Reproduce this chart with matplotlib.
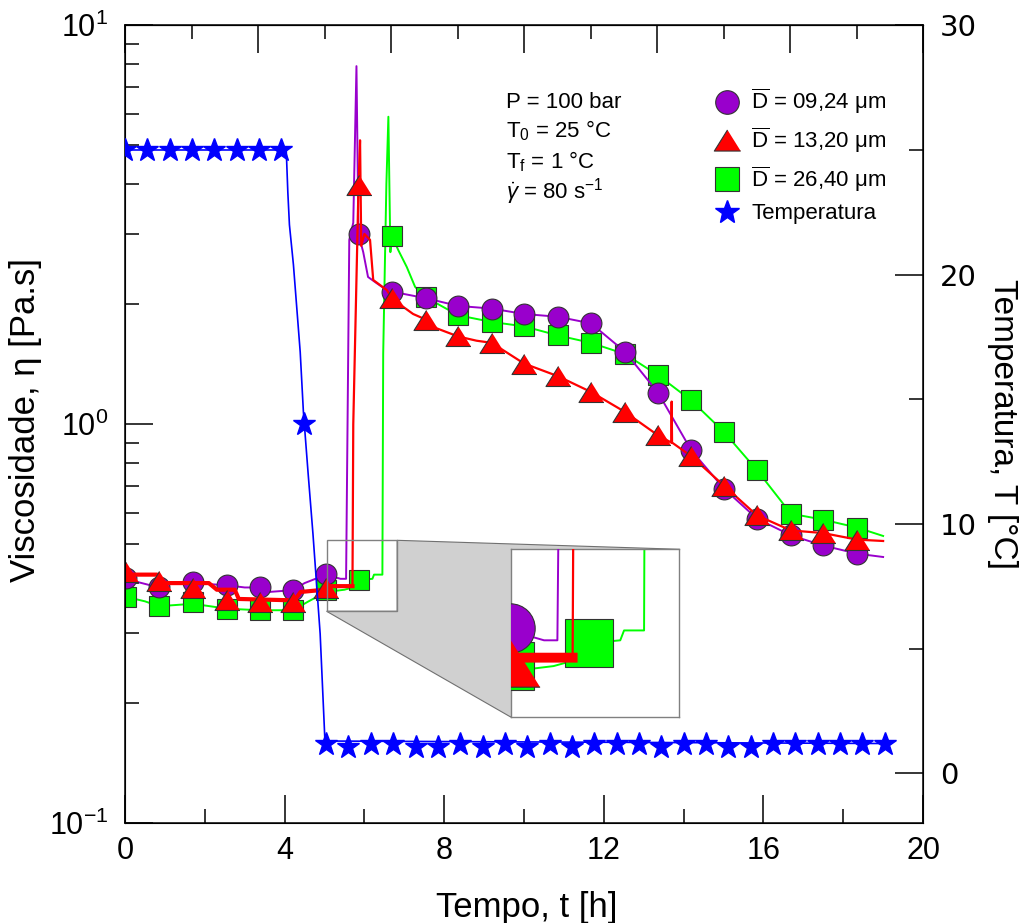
import numpy as np
import matplotlib
matplotlib.use('Agg')
import matplotlib.pyplot as plt
from matplotlib.ticker import MultipleLocator, LogLocator, NullFormatter
from matplotlib.lines import Line2D
from matplotlib.patches import Polygon, Rectangle

plt.rcParams['font.family'] = ['Liberation Sans', 'DejaVu Sans']
plt.rcParams['mathtext.fontset'] = 'custom'
plt.rcParams['mathtext.rm'] = 'Liberation Sans'
plt.rcParams['mathtext.it'] = 'Liberation Sans:italic'
plt.rcParams['mathtext.sf'] = 'Liberation Sans'

# marker times (h), shared by the three viscosity series
t_mk = [0.03, 0.85, 1.70, 2.56, 3.38, 4.21, 5.04, 5.87, 6.69, 7.54, 8.35, 9.19,
        10.0, 10.85, 11.68, 12.53, 13.36, 14.19, 15.01, 15.84, 16.69, 17.49, 18.35]
v_d09 = [0.411, 0.391, 0.402, 0.395, 0.391, 0.384, 0.422, 3.0, 2.15, 2.07, 1.98, 1.95,
         1.89, 1.86, 1.79, 1.52, 1.20, 0.861, 0.690, 0.580, 0.527, 0.497, 0.474]
v_d13 = [0.426, 0.406, 0.388, 0.362, 0.359, 0.359, 0.388, 3.97, 2.07, 1.83, 1.66, 1.60,
         1.42, 1.32, 1.205, 1.074, 0.938, 0.832, 0.702, 0.591, 0.542, 0.534, 0.514]
v_d26 = [0.369, 0.350, 0.359, 0.345, 0.342, 0.342, 0.385, 0.407, 2.96, 2.08, 1.876, 1.805,
         1.76, 1.67, 1.60, 1.50, 1.327, 1.148, 0.957, 0.767, 0.597, 0.577, 0.551]

# continuous (measured) curves
t_l09 = [0.0, 0.85, 1.2, 1.7, 2.56, 3.0, 3.38, 3.6, 4.21, 4.5, 5.04, 5.4, 5.54, 5.62, 5.72,
         5.8, 5.85, 5.97, 6.09, 6.3, 6.47, 6.69, 7.54, 8.35, 9.19, 10.0, 10.85, 11.68,
         12.53, 13.36, 14.19, 15.01, 15.84, 16.69, 17.49, 18.35, 19.0]
v_l09 = [0.41, 0.39, 0.40, 0.40, 0.395, 0.39, 0.39, 0.38, 0.384, 0.40, 0.42, 0.41, 0.41, 2.9, 3.2,
         7.9, 3.0, 2.7, 2.34, 2.26, 2.2, 2.15, 2.07, 1.98, 1.95, 1.89, 1.86, 1.79,
         1.52, 1.20, 0.861, 0.690, 0.580, 0.527, 0.497, 0.474, 0.465]

t_l13 = [0.0, 0.8, 1.0, 2.1, 2.3, 2.75, 2.85, 4.25, 4.4, 5.0, 5.04, 5.7, 5.72, 5.85, 5.89,
         5.92, 6.0, 6.14, 6.22, 6.56, 6.69, 6.97, 7.22, 7.54, 7.81, 8.35, 8.81, 9.19,
         10.0, 10.85, 11.68, 12.53, 13.36, 13.69, 13.7, 13.71, 14.19, 15.01, 15.84,
         16.69, 17.49, 18.35, 19.0]
v_l13 = [0.42, 0.42, 0.40, 0.40, 0.385, 0.385, 0.365, 0.362, 0.38, 0.385, 0.393, 0.393, 1.0,
         3.9, 5.15, 2.8, 3.0, 2.9, 2.3, 2.17, 2.07, 1.97, 1.89, 1.83, 1.74, 1.66, 1.62, 1.60,
         1.42, 1.32, 1.205, 1.074, 0.938, 0.90, 1.14, 0.90, 0.832, 0.702, 0.591,
         0.542, 0.534, 0.514, 0.51]
n13_flat = 12  # first points of the red curve: the noisy (thick) plateau up to 5.7 h

t_l26 = [0.0, 0.5, 0.85, 1.7, 2.56, 3.38, 4.21, 4.6, 5.04, 5.5, 5.7, 5.87, 6.2, 6.24, 6.45,
         6.47, 6.55, 6.6, 6.65, 6.69, 6.85, 7.06, 7.27, 7.54, 8.35, 9.19, 10.0, 10.85,
         11.68, 12.53, 13.36, 14.19, 15.01, 15.84, 16.69, 17.49, 18.35, 19.0]
v_l26 = [0.37, 0.36, 0.35, 0.355, 0.345, 0.342, 0.342, 0.36, 0.38, 0.385, 0.39, 0.407, 0.41,
         0.42, 0.42, 1.5, 4.0, 5.9, 2.7, 2.96, 2.73, 2.48, 2.21, 2.08, 1.876, 1.805, 1.76,
         1.67, 1.60, 1.50, 1.327, 1.148, 0.957, 0.767, 0.597, 0.577, 0.551, 0.525]

# temperature
t_temp_line = [0.0, 4.04, 4.08, 4.12, 4.22, 4.39, 4.47, 4.59, 4.71, 4.89, 5.01, 19.0]
T_temp_line = [25.0, 25.0, 23.3, 22.0, 20.4, 16.9, 14.5, 12.0, 9.6, 5.6, 1.3, 1.2]
t_temp_mk = [0.0, 0.56, 1.12, 1.68, 2.24, 2.80, 3.36, 3.92, 4.48, 5.04, 5.60, 6.16,
             6.72, 7.28, 7.84, 8.40, 8.96, 9.52, 10.08, 10.64, 11.20, 11.76, 12.32,
             12.88, 13.44, 14.00, 14.56, 15.12, 15.68, 16.24, 16.80, 17.36, 17.92,
             18.48, 19.04]
T_temp_mk = [25, 25, 25, 25, 25, 25, 25, 25, 14.0, 1.2, 1.05, 1.2, 1.2, 1.05, 1.05,
             1.2, 1.05, 1.2, 1.05, 1.2, 1.05, 1.2, 1.2, 1.2, 1.05, 1.2, 1.2, 1.05,
             1.05, 1.2, 1.2, 1.2, 1.2, 1.2, 1.2]

labels = [r'$\overline{\mathrm{D}}$ = 09,24 μm', r'$\overline{\mathrm{D}}$ = 13,20 μm',
          r'$\overline{\mathrm{D}}$ = 26,40 μm', 'Temperatura']

c_pur = '#9900CC'
c_red = '#FF0000'
c_grn = '#00FF00'
c_blu = '#0000FF'
ec = '#333333'
tri = [(0, 0.8), (-1, -0.8), (1, -0.8)]

fig = plt.figure(figsize=(10.25, 9.23), dpi=100)
ax = fig.add_axes([0.122, 0.108, 0.7785, 0.8646])


def draw_visc(a, k=1.0):
    a.plot(t_l26, v_l26, color=c_grn, lw=1.4, zorder=2)
    a.plot(t_mk, v_d26, ls='none', marker='s', ms=14.5 * k, mfc=c_grn, mec=ec, mew=0.8, zorder=3)
    a.plot(t_l09, v_l09, color=c_pur, lw=1.4, zorder=4)
    a.plot(t_mk, v_d09, ls='none', marker='o', ms=15 * k, mfc=c_pur, mec=ec, mew=0.8, zorder=5)
    a.plot(t_l13, v_l13, color=c_red, lw=1.6, zorder=6)
    a.plot(t_l13[:n13_flat], v_l13[:n13_flat], color=c_red, lw=3.0 * k, zorder=6)
    a.plot(t_mk, v_d13, ls='none', marker=tri, ms=18 * k, mfc=c_red, mec=ec, mew=0.8, zorder=7)


draw_visc(ax)
ax.set_yscale('log')
ax.set_xlim(0, 20)
ax.set_ylim(0.1, 10)
ax.xaxis.set_major_locator(MultipleLocator(4))
ax.xaxis.set_minor_locator(MultipleLocator(2))
ax.yaxis.set_major_locator(LogLocator(base=10))
ax.yaxis.set_minor_locator(LogLocator(base=10, subs=np.arange(2, 10)))
ax.yaxis.set_minor_formatter(NullFormatter())
ax.tick_params(which='both', direction='in', width=1.1, top=False, right=False)
ax.tick_params(which='major', length=20, labelsize=22, pad=9)
ax.tick_params(which='minor', length=10)
ax.tick_params(axis='y', which='major', pad=12)
for s in ax.spines.values():
    s.set_linewidth(1.1)

ax.set_xlabel('Tempo, t [h]', fontsize=25)
ax.set_ylabel('Viscosidade, η [Pa.s]', fontsize=25)
ax.xaxis.set_label_coords(0.504, -0.085)
ax.yaxis.set_label_coords(-0.104, 0.505)

top = ax.secondary_xaxis('top', functions=(lambda x: x * 1.2, lambda x: x / 1.2))
top.xaxis.set_major_locator(MultipleLocator(4))
top.xaxis.set_minor_locator(MultipleLocator(2))
top.tick_params(which='both', direction='in', width=1.1, labeltop=False)
top.tick_params(which='major', length=20)
top.tick_params(which='minor', length=10)

ax2 = ax.twinx()
ax2.plot(t_temp_line, T_temp_line, color=c_blu, lw=1.2, zorder=2)
ax2.plot(t_temp_mk, T_temp_mk, ls='none', marker='*', ms=17, color=c_blu, mec=c_blu, zorder=3)
ax2.set_ylim(-2, 30)
ax2.yaxis.set_major_locator(MultipleLocator(10))
ax2.yaxis.set_minor_locator(MultipleLocator(5))
ax2.tick_params(which='both', direction='in', width=1.1)
ax2.tick_params(which='major', length=20, labelsize=21, pad=12)
ax2.tick_params(which='minor', length=10)
for lab in ax2.get_yticklabels():
    lab.set_fontfamily('DejaVu Sans')
ax2.set_ylabel('Temperatura, T [°C]', fontsize=24, rotation=270)
ax2.yaxis.set_label_coords(1.119, 0.50)

# zoom box and inset
x0, x1, y0, y1 = 5.05, 6.82, 0.340, 0.512
ax.add_patch(Rectangle((x0, y0), x1 - x0, y1 - y0, fill=False, ec='#808080', lw=1, zorder=8))
fig.canvas.draw()
to_ax = ax.transData + ax.transAxes.inverted()
bl = to_ax.transform((x0, y0))
br = to_ax.transform((x1, y0))
tr = to_ax.transform((x1, y1))
ins = [0.4833, 0.1332, 0.2113, 0.2102]
poly = Polygon([tr, (ins[0] + ins[2], ins[1] + ins[3]), (ins[0], ins[1]), bl, br],
               closed=True, transform=ax.transAxes, fc='#D0D0D0', ec='#707070', lw=0.8,
               zorder=1, clip_on=False)
ax.add_patch(poly)

pos = ax.get_position()
axi = fig.add_axes([pos.x0 + ins[0] * pos.width, pos.y0 + ins[1] * pos.height,
                    ins[2] * pos.width, ins[3] * pos.height])
draw_visc(axi, k=2.37)
axi.set_yscale('log')
axi.set_xlim(x0, x1)
axi.set_ylim(y0, y1)
axi.set_xticks([])
axi.set_yticks([])
axi.minorticks_off()
for s in axi.spines.values():
    s.set_color('#808080')
    s.set_linewidth(1)

# annotation text
fs = 16
fig.text(0.494, 0.889, 'P = 100 bar', fontsize=fs, va='center')
fig.text(0.494, 0.858, r'T$_0$ = 25 °C', fontsize=fs, va='center')
fig.text(0.494, 0.825, r'T$_\mathrm{f}$ = 1 °C', fontsize=fs, va='center')
fig.text(0.494, 0.793, r'$\dot{\gamma}$ = 80 s$^{-1}$', fontsize=fs, va='center')

handles = [
    Line2D([], [], ls='none', marker='o', ms=17, mfc=c_pur, mec=ec, mew=0.8),
    Line2D([], [], ls='none', marker=tri, ms=19, mfc=c_red, mec=ec, mew=0.8),
    Line2D([], [], ls='none', marker='s', ms=17, mfc=c_grn, mec=ec, mew=0.8),
    Line2D([], [], ls='none', marker='*', ms=18, color=c_blu),
]
leg = ax2.legend(handles, labels, loc='upper left', bbox_to_anchor=(0.685, 0.918),
                 bbox_transform=fig.transFigure, frameon=False, fontsize=fs,
                 handlelength=1.2, handletextpad=0.5, labelspacing=0.42, borderpad=0)

fig.savefig('out.png', dpi=100)
